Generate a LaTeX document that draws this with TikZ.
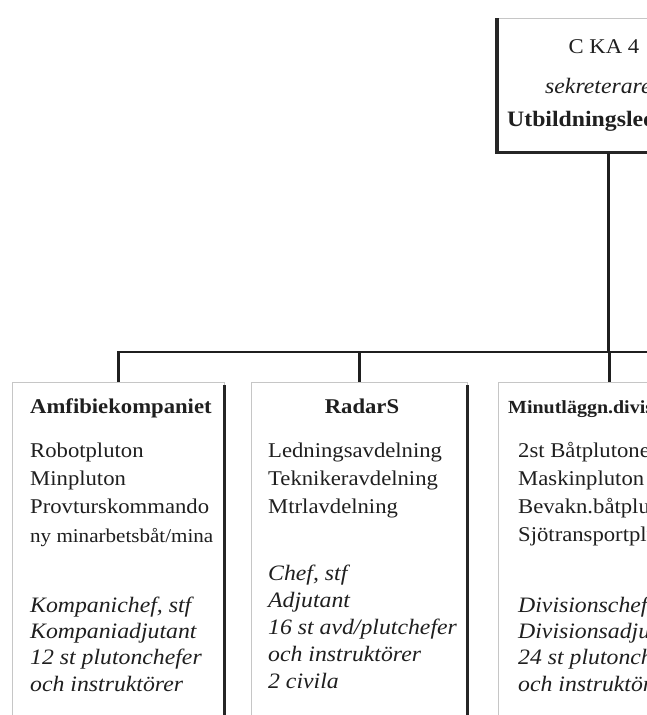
\documentclass[tikz,border=0pt]{standalone}
\usepackage{fontspec}
\setmainfont[FakeStretch=1.08]{Liberation Serif}
\begin{document}
\begin{tikzpicture}[x=1pt,y=-1pt,
  box/.style={draw=gray!45, line width=0.8pt, fill=white, rectangle, inner sep=0pt, anchor=north west},
  shadowline/.style={draw=black!85, line width=3.2pt},
  conn/.style={draw=black!88, line width=2.8pt, line join=miter},
  txt/.style={inner sep=0pt, anchor=base west, text=black!88, font=\fontsize{21}{25}\selectfont},
  itxt/.style={txt, font=\fontsize{22}{26}\itshape},
  ttl/.style={inner sep=0pt, anchor=base west, text=black!88, font=\fontsize{21}{25}\bfseries}
]
\useasboundingbox (0,0) rectangle (647,715);
\clip (0,0) rectangle (647,715);
\fill[white] (0,0) rectangle (647,715);

% boxes
\node[box, minimum width=222pt, minimum height=134pt] (top) at (497,18) {};
\node[box, minimum width=212pt, minimum height=345pt] (bl) at (12,382) {};
\node[box, minimum width=216pt, minimum height=345pt] (bm) at (251,382) {};
\node[box, minimum width=222pt, minimum height=345pt] (br) at (498,382) {};

% shadows
\draw[shadowline] (top.north west) -- (top.south west) -- (top.south east);
\draw[shadowline] ([yshift=-3pt]bl.north east) -- (bl.south east);
\draw[shadowline] ([yshift=-3pt]bm.north east) -- (bm.south east);

% connectors
\coordinate (busY) at (0,352);
\coordinate (busE) at (660,352);
\draw[conn] (top.south) -- (top.south |- busY);
\draw[conn] (bl.north) -- (bl.north |- busY) -- (busE);
\draw[conn] (bm.north |- busY) -- (bm.north);
\draw[conn] (br.north |- busY) -- (br.north);

% top box texts
\node[txt, anchor=base] (t1) at (604,53) {C KA 4};
\node[itxt] (t2) at (545,93) {sekreterare};
\node[ttl, font=\fontsize{22}{26}\bfseries] (t3) at (507,126) {Utbildningsledare};

% left box
\node[ttl] (lt) at (30,413) {Amfibiekompaniet};
\foreach \t [count=\i] in {Robotpluton, Minpluton, Provturskommando}
  \node[txt] (la\i) at (30,{457+28.3*(\i-1)}) {\t};
\node[txt, font=\fontsize{19.5}{24}\selectfont] (la4) at (30,542) {ny minarbetsbåt/mina};
\foreach \t [count=\i] in {{Kompanichef, stf}, Kompaniadjutant, 12 st plutonchefer, och instruktörer}
  \node[itxt] (lb\i) at (30,{612+26.4*(\i-1)}) {\t};

% middle box
\node[ttl, anchor=base] (mt) at (362,413) {RadarS};
\foreach \t [count=\i] in {Ledningsavdelning, Teknikeravdelning, Mtrlavdelning}
  \node[txt] (ma\i) at (268,{457+28.3*(\i-1)}) {\t};
\foreach \t [count=\i] in {{Chef, stf}, Adjutant, 16 st avd/plutchefer, och instruktörer, 2 civila}
  \node[itxt] (mb\i) at (268,{580+27*(\i-1)}) {\t};

% right box
\node[ttl, font=\fontsize{18.5}{22}\bfseries] (rt) at (508,413) {Minutläggn.division};
\foreach \t [count=\i] in {2st Båtplutoner, Maskinpluton, Bevakn.båtpluton, Sjötransportpluton}
  \node[txt] (ra\i) at (518,{457+28.3*(\i-1)}) {\t};
\foreach \t [count=\i] in {{Divisionschef, stf}, Divisionsadjutant, 24 st plutonchefer, och instruktörer}
  \node[itxt] (rb\i) at (518,{612+26.4*(\i-1)}) {\t};
\end{tikzpicture}
\end{document}
